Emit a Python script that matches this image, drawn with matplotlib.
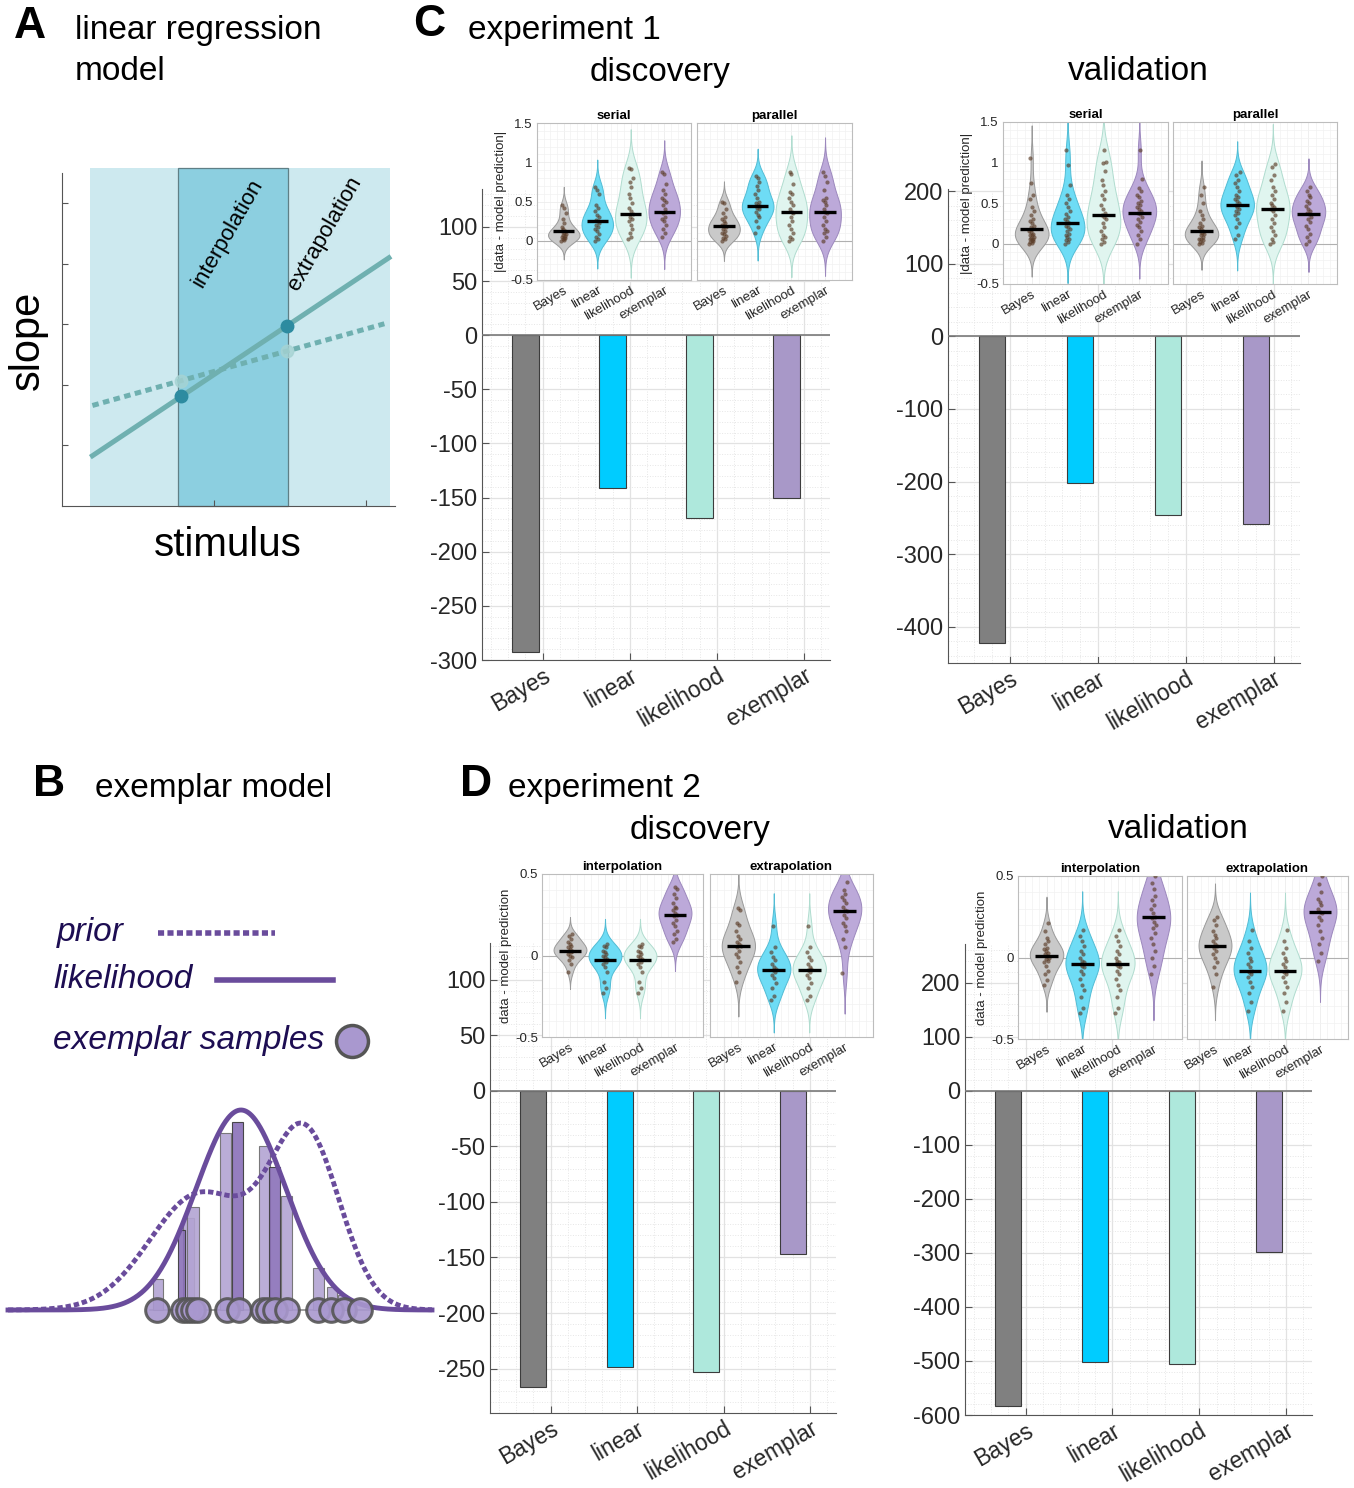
import numpy as np
import matplotlib
matplotlib.use('Agg')
import matplotlib.pyplot as plt
from matplotlib.patches import Rectangle
from matplotlib.ticker import MultipleLocator, FormatStrFormatter

plt.rcParams['font.family'] = ['Liberation Sans', 'DejaVu Sans']
plt.rcParams['axes.unicode_minus'] = False

W, H = 1354, 1488

models = ['Bayes', 'linear', 'likelihood', 'exemplar']
bar_colors = ['#808080', '#00ccff', '#aee8dc', '#a898c8']
violin_colors = ['#c9c9c9', '#6edcf5', '#e0f5ef', '#bca9d9']
violin_edges = ['#9a9a9a', '#52bcd4', '#b0dccf', '#9c88bd']

# summed model comparison (bars)
exp1_disc_bars = [-293, -141, -169, -150]
exp1_val_bars = [-422, -202, -246, -258]
exp2_disc_bars = [-267, -249, -253, -147]
exp2_val_bars = [-584, -501, -506, -298]

# |data - model prediction|, experiment 1 discovery
e1d_serial = [
    [0.0, 0.01, 0.02, 0.03, 0.04, 0.05, 0.06, 0.07, 0.08, 0.1, 0.12, 0.13, 0.15, 0.18, 0.22, 0.28, 0.35, 0.42, 0.45],
    [0.0, 0.02, 0.05, 0.08, 0.12, 0.15, 0.18, 0.2, 0.22, 0.25, 0.27, 0.3, 0.33, 0.38, 0.42, 0.45, 0.6, 0.65, 0.68],
    [0.02, 0.05, 0.1, 0.15, 0.2, 0.25, 0.28, 0.3, 0.34, 0.38, 0.42, 0.48, 0.55, 0.6, 0.68, 0.75, 0.8, 0.92, 0.93],
    [0.05, 0.1, 0.15, 0.2, 0.25, 0.28, 0.3, 0.35, 0.37, 0.4, 0.45, 0.5, 0.52, 0.55, 0.6, 0.65, 0.72, 0.85, 0.87],
]
e1d_serial_med = [0.13, 0.25, 0.34, 0.37]
e1d_parallel = [
    [0.0, 0.02, 0.04, 0.06, 0.08, 0.1, 0.12, 0.15, 0.17, 0.19, 0.2, 0.22, 0.25, 0.28, 0.3, 0.35, 0.4, 0.48, 0.5],
    [0.1, 0.18, 0.25, 0.3, 0.33, 0.36, 0.4, 0.42, 0.44, 0.46, 0.48, 0.5, 0.55, 0.6, 0.65, 0.7, 0.75, 0.8, 0.82],
    [0.0, 0.02, 0.05, 0.1, 0.15, 0.2, 0.25, 0.3, 0.35, 0.36, 0.4, 0.45, 0.5, 0.55, 0.6, 0.62, 0.72, 0.85, 0.88],
    [0.0, 0.05, 0.1, 0.12, 0.15, 0.2, 0.25, 0.3, 0.35, 0.37, 0.4, 0.45, 0.5, 0.52, 0.55, 0.65, 0.75, 0.82, 0.87],
]
e1d_parallel_med = [0.19, 0.44, 0.36, 0.37]

# experiment 1 validation
e1v_serial = [
    [0.0, 0.01, 0.02, 0.03, 0.04, 0.05, 0.06, 0.07, 0.08, 0.1, 0.11, 0.12, 0.14, 0.16, 0.18, 0.2, 0.22, 0.25, 0.28, 0.3, 0.35, 0.4, 0.45, 0.55, 0.6, 0.75, 1.05],
    [0.0, 0.02, 0.04, 0.06, 0.08, 0.1, 0.12, 0.15, 0.18, 0.2, 0.22, 0.25, 0.28, 0.3, 0.33, 0.36, 0.4, 0.45, 0.5, 0.55, 0.6, 0.72, 0.97, 1.15],
    [0.0, 0.02, 0.05, 0.08, 0.1, 0.15, 0.2, 0.25, 0.3, 0.33, 0.35, 0.38, 0.42, 0.48, 0.55, 0.6, 0.65, 0.72, 0.78, 0.9, 1.0, 1.01, 1.15],
    [0.0, 0.05, 0.1, 0.15, 0.2, 0.23, 0.26, 0.3, 0.33, 0.36, 0.38, 0.4, 0.42, 0.45, 0.48, 0.5, 0.53, 0.57, 0.6, 0.65, 0.68, 0.8, 1.15],
]
e1v_serial_med = [0.18, 0.25, 0.35, 0.38]
e1v_parallel = [
    [0.0, 0.01, 0.02, 0.04, 0.05, 0.06, 0.08, 0.1, 0.12, 0.13, 0.15, 0.16, 0.18, 0.2, 0.22, 0.25, 0.3, 0.35, 0.4, 0.5, 0.6, 0.7],
    [0.05, 0.1, 0.2, 0.25, 0.3, 0.35, 0.38, 0.4, 0.43, 0.45, 0.47, 0.5, 0.52, 0.55, 0.58, 0.6, 0.65, 0.7, 0.75, 0.78, 0.85, 0.88],
    [0.0, 0.02, 0.05, 0.1, 0.15, 0.2, 0.25, 0.3, 0.35, 0.4, 0.43, 0.45, 0.48, 0.5, 0.55, 0.6, 0.65, 0.7, 0.78, 0.85, 0.95, 0.98],
    [0.0, 0.03, 0.08, 0.12, 0.18, 0.22, 0.26, 0.3, 0.33, 0.36, 0.38, 0.4, 0.43, 0.46, 0.5, 0.53, 0.57, 0.6, 0.65, 0.7],
]
e1v_parallel_med = [0.16, 0.47, 0.43, 0.36]

# data - model prediction, experiment 2 discovery
e2d_interp = [
    [-0.1, -0.05, -0.03, -0.01, 0.0, 0.01, 0.02, 0.03, 0.03, 0.04, 0.05, 0.06, 0.07, 0.08, 0.1, 0.12, 0.13],
    [-0.23, -0.2, -0.16, -0.1, -0.07, -0.05, -0.04, -0.03, -0.02, -0.01, 0.0, 0.01, 0.02, 0.03, 0.05, 0.06, 0.07],
    [-0.23, -0.2, -0.16, -0.1, -0.07, -0.05, -0.04, -0.03, -0.02, -0.01, 0.0, 0.01, 0.02, 0.03, 0.05, 0.06, 0.07],
    [0.08, 0.1, 0.13, 0.15, 0.18, 0.2, 0.22, 0.24, 0.25, 0.26, 0.28, 0.29, 0.3, 0.32, 0.35, 0.38, 0.41, 0.42],
]
e2d_interp_med = [0.03, -0.03, -0.03, 0.25]
e2d_extrap = [
    [-0.16, -0.1, -0.07, -0.04, -0.01, 0.01, 0.03, 0.05, 0.06, 0.07, 0.08, 0.1, 0.12, 0.15, 0.19, 0.2, 0.28, 0.29],
    [-0.27, -0.25, -0.2, -0.17, -0.14, -0.12, -0.1, -0.09, -0.08, -0.07, -0.05, -0.03, -0.01, 0.02, 0.05, 0.18],
    [-0.27, -0.25, -0.2, -0.17, -0.14, -0.12, -0.1, -0.09, -0.08, -0.07, -0.05, -0.03, -0.01, 0.02, 0.05, 0.18],
    [-0.11, 0.05, 0.1, 0.15, 0.18, 0.2, 0.23, 0.25, 0.27, 0.28, 0.3, 0.32, 0.34, 0.36, 0.38, 0.4, 0.45],
]
e2d_extrap_med = [0.06, -0.09, -0.09, 0.27]

# experiment 2 validation
e2v_interp = [
    [-0.17, -0.14, -0.1, -0.08, -0.05, -0.03, -0.02, -0.01, 0.0, 0.01, 0.02, 0.03, 0.04, 0.05, 0.06, 0.08, 0.1, 0.12, 0.16, 0.21],
    [-0.34, -0.31, -0.24, -0.2, -0.17, -0.13, -0.1, -0.08, -0.06, -0.05, -0.04, -0.03, -0.02, 0.0, 0.02, 0.04, 0.07, 0.1, 0.13, 0.17],
    [-0.34, -0.31, -0.24, -0.2, -0.17, -0.13, -0.1, -0.08, -0.06, -0.05, -0.04, -0.03, -0.02, 0.0, 0.02, 0.04, 0.07, 0.1, 0.13, 0.17],
    [-0.1, -0.05, 0.0, 0.04, 0.08, 0.12, 0.15, 0.18, 0.2, 0.22, 0.24, 0.25, 0.27, 0.3, 0.32, 0.35, 0.38, 0.42, 0.46, 0.5],
]
e2v_interp_med = [0.01, -0.04, -0.04, 0.25]
e2v_extrap = [
    [-0.18, -0.1, -0.06, -0.03, 0.0, 0.02, 0.04, 0.06, 0.07, 0.08, 0.1, 0.12, 0.14, 0.16, 0.2, 0.23, 0.25],
    [-0.33, -0.27, -0.22, -0.18, -0.15, -0.12, -0.1, -0.09, -0.08, -0.06, -0.04, -0.02, 0.0, 0.03, 0.06, 0.1, 0.17],
    [-0.33, -0.27, -0.22, -0.18, -0.15, -0.12, -0.1, -0.09, -0.08, -0.06, -0.04, -0.02, 0.0, 0.03, 0.06, 0.1, 0.17],
    [-0.02, 0.03, 0.08, 0.12, 0.16, 0.2, 0.23, 0.25, 0.27, 0.28, 0.3, 0.32, 0.34, 0.36, 0.4, 0.45, 0.5],
]
e2v_extrap_med = [0.07, -0.08, -0.08, 0.28]

# panel A schematic (stimulus / slope units)
solid_x = [0.2, 2.15]
solid_y = [0.83, 4.1]
dotted_x = [0.2, 2.12]
dotted_y = [1.66, 3.01]
bound_x = [0.78, 1.48]
solid_dot_y = [1.81, 2.97]
dotted_dot_y = [2.07, 2.56]

# panel B schematic
prior_means = [200, 305]
prior_sds = [50, 35]
prior_peaks = [116, 173]
lik_mean, lik_sd, lik_peak = 241, 45, 200
hist_light_x = [153, 183, 187, 220, 259, 281, 313, 327, 338]
hist_light_w = [10, 11, 12, 11, 11, 11, 11, 10, 9]
hist_light_h = [31, 92, 103, 177, 164, 114, 42, 23, 15]
hist_dark_x = [178, 232, 269]
hist_dark_w = [7, 11, 11]
hist_dark_h = [80, 188, 143]
sample_x = [157, 183, 188, 193, 198, 227, 239, 263, 268, 275, 287, 318, 331, 344, 360]

TXT = '#262626'
INSET_FS = 9.5


def px_rect(l, t, r, b):
    return [l / W, 1 - b / H, (r - l) / W, (b - t) / H]


fig = plt.figure(figsize=(W / 100, H / 100), dpi=100)


def bar_panel(rect, vals, ylim, ystep, yminor):
    ax = fig.add_axes(rect, zorder=1)
    x = np.arange(1, 5)
    ax.bar(x - 0.2, vals, width=0.3, color=bar_colors, edgecolor='#3c3c3c', linewidth=0.8, zorder=3)
    ax.set_xlim(0.3, 4.3)
    ax.set_ylim(*ylim)
    ax.set_xticks(x)
    ax.set_xticklabels(models, rotation=30, ha='right', va='top', rotation_mode='anchor',
                       fontsize=16.5, color=TXT)
    ax.yaxis.set_major_locator(MultipleLocator(ystep))
    ax.yaxis.set_minor_locator(MultipleLocator(yminor))
    ax.xaxis.set_minor_locator(MultipleLocator(0.2))
    ax.tick_params(axis='y', labelsize=17, labelcolor=TXT)
    ax.tick_params(axis='x', pad=3)
    ax.tick_params(which='major', direction='in', length=5, color='#555555')
    ax.tick_params(which='minor', length=0)
    ax.grid(which='major', color='#e2e2e2', lw=0.9)
    ax.grid(which='minor', color='#e6e6e6', lw=0.7, ls=':')
    ax.set_axisbelow(True)
    ax.axhline(0, color='#7a7a7a', lw=1.2, zorder=4)
    for s in ['top', 'right']:
        ax.spines[s].set_visible(False)
    for s in ['left', 'bottom']:
        ax.spines[s].set_color('#555555')
    return ax


def violin_inset(rect, groups, medians, title, ylim, ystep, ylabel=None):
    ax = fig.add_axes(rect, zorder=5)
    ax.set_facecolor('white')
    for i, (pts, med) in enumerate(zip(groups, medians)):
        pos = i + 1
        pts = np.asarray(pts, dtype=float)
        bw = 1.06 * pts.std() * len(pts) ** (-0.2)
        yy = np.linspace(pts.min() - 3 * bw, pts.max() + 3 * bw, 300)
        dens = np.exp(-0.5 * ((yy[:, None] - pts[None, :]) / bw) ** 2).sum(axis=1)
        dens = dens / dens.max() * 0.47
        ax.fill_betweenx(yy, pos - dens, pos + dens, facecolor=violin_colors[i],
                         edgecolor=violin_edges[i], lw=0.7, zorder=2)
        jit = ((np.arange(len(pts)) * 0.618) % 1 - 0.5) * 0.14
        ax.scatter(pos + jit, pts, s=9, color='#5a3b26', alpha=0.65, lw=0, zorder=3)
        ax.plot([pos - 0.32, pos + 0.32], [med, med], color='k', lw=2.4, zorder=4,
                solid_capstyle='butt')
    ax.axhline(0, color='#b0b0b0', lw=0.8, zorder=1)
    ax.set_xlim(0.2, 4.8)
    ax.set_ylim(*ylim)
    ax.yaxis.set_major_locator(MultipleLocator(ystep))
    ax.yaxis.set_major_formatter(FormatStrFormatter('%g'))
    ax.yaxis.set_minor_locator(MultipleLocator(0.1))
    ax.xaxis.set_minor_locator(MultipleLocator(0.2))
    ax.set_xticks(np.arange(1, 5))
    ax.set_xticklabels(models, rotation=30, ha='right', va='top', rotation_mode='anchor',
                       fontsize=INSET_FS, color=TXT)
    ax.tick_params(axis='y', labelsize=INSET_FS, labelcolor=TXT)
    ax.tick_params(which='both', length=0, pad=3)
    ax.grid(which='major', color='#ececec', lw=0.6)
    ax.grid(which='minor', color='#f2f2f2', lw=0.5)
    ax.set_axisbelow(True)
    for s in ax.spines.values():
        s.set_color('#bdbdbd')
    ax.set_title(title, fontsize=INSET_FS, fontweight='bold', pad=3)
    if ylabel:
        ax.set_ylabel(ylabel, fontsize=INSET_FS, color=TXT, labelpad=2)
    else:
        ax.set_yticklabels([])
    return ax


# ---- panel C: experiment 1
bar_panel(px_rect(482, 189, 830, 660), exp1_disc_bars, (-300, 135), 50, 10)
bar_panel(px_rect(948, 189, 1300, 663), exp1_val_bars, (-450, 203), 100, 20)
violin_inset(px_rect(537, 123, 691, 280), e1d_serial, e1d_serial_med, 'serial', (-0.5, 1.5), 0.5,
             '|data - model prediction|')
violin_inset(px_rect(697, 123, 852, 280), e1d_parallel, e1d_parallel_med, 'parallel', (-0.5, 1.5), 0.5)
violin_inset(px_rect(1003, 122, 1168, 284), e1v_serial, e1v_serial_med, 'serial', (-0.5, 1.5), 0.5,
             '|data - model prediction|')
violin_inset(px_rect(1173, 122, 1337, 284), e1v_parallel, e1v_parallel_med, 'parallel', (-0.5, 1.5), 0.5)

# ---- panel D: experiment 2
bar_panel(px_rect(490, 943, 836, 1413), exp2_disc_bars, (-290, 133), 50, 10)
bar_panel(px_rect(965, 944, 1312, 1415), exp2_val_bars, (-600, 272), 100, 20)
violin_inset(px_rect(542, 874, 703, 1037), e2d_interp, e2d_interp_med, 'interpolation', (-0.5, 0.5), 0.5,
             'data - model prediction')
violin_inset(px_rect(710, 874, 873, 1037), e2d_extrap, e2d_extrap_med, 'extrapolation', (-0.5, 0.5), 0.5)
violin_inset(px_rect(1018, 876, 1182, 1039), e2v_interp, e2v_interp_med, 'interpolation', (-0.5, 0.5), 0.5,
             'data - model prediction')
violin_inset(px_rect(1187, 876, 1348, 1039), e2v_extrap, e2v_extrap_med, 'extrapolation', (-0.5, 0.5), 0.5)

# ---- panel A: linear regression schematic
axA = fig.add_axes(px_rect(62, 173, 395, 506))
axA.set_xlim(0, 2.19)
axA.set_ylim(0, 5.5)
axA.add_patch(Rectangle((0.184, 0), 1.974, 5.59, facecolor='#cde9ef', lw=0, clip_on=False, zorder=0))
axA.add_patch(Rectangle((0.763, 0), 0.724, 5.59, facecolor='#8ccfe0', edgecolor='#5f7f86', lw=0.9,
                        clip_on=False, zorder=1))
axA.plot(dotted_x, dotted_y, color='#6fb0b0', lw=3.6, linestyle=(0, (1.3, 0.9)), zorder=2)
axA.plot(solid_x, solid_y, color='#6fb0b0', lw=3.6, zorder=3)
axA.plot(bound_x, dotted_dot_y, 'o', color='#a6d3d3', ms=9, alpha=0.8, zorder=4, lw=0)
axA.plot(bound_x, solid_dot_y, 'o', color='#2d8ba0', ms=9, zorder=5, lw=0)
axA.text(1.09, 4.5, 'interpolation', rotation=60, fontsize=16, ha='center', va='center', zorder=6)
axA.text(1.73, 4.5, 'extrapolation', rotation=60, fontsize=16, ha='center', va='center', zorder=6)
axA.set_xticks([1, 2])
axA.set_yticks([1, 2, 3, 4, 5])
axA.tick_params(direction='in', length=4, color='#555555', labelleft=False, labelbottom=False)
for s in ['top', 'right']:
    axA.spines[s].set_visible(False)
for s in ['left', 'bottom']:
    axA.spines[s].set_color('#555555')

# ---- panel B: exemplar schematic
axB = fig.add_axes(px_rect(0, 1090, 440, 1340))
axB.set_xlim(0, 440)
axB.set_ylim(-30, 220)
axB.axis('off')
xs = np.linspace(8, 432, 500)
prior = sum(p * np.exp(-0.5 * ((xs - m) / s) ** 2) for m, s, p in zip(prior_means, prior_sds, prior_peaks))
lik = lik_peak * np.exp(-0.5 * ((xs - lik_mean) / lik_sd) ** 2)
axB.plot([150, 370], [0, 0], color='#8c8c8c', lw=1.2, zorder=1)
axB.bar(hist_light_x, hist_light_h, width=hist_light_w, align='edge', color='#b3a4d3',
        edgecolor='#6e6e6e', lw=0.8, alpha=0.9, zorder=2)
axB.bar(hist_dark_x, hist_dark_h, width=hist_dark_w, align='edge', color='#8a70b8',
        edgecolor='#3a3a3a', lw=0.8, alpha=0.9, zorder=2)
axB.plot(xs, prior, color='#6a4c9c', lw=3.5, linestyle=(0, (1.1, 0.6)), zorder=3)
axB.plot(xs, lik, color='#6a4c9c', lw=3.5, zorder=3)
axB.plot(sample_x, np.zeros(len(sample_x)), 'o', ms=17, mfc='#a998cf', mec='#555555', mew=2.2,
         alpha=0.9, zorder=4)

# ---- overlay for titles and legend of B
ov = fig.add_axes([0, 0, 1, 1], zorder=10)
ov.set_xlim(0, W)
ov.set_ylim(H, 0)
ov.axis('off')
ov.patch.set_alpha(0)

ov.text(14, 27, 'A', fontsize=32, fontweight='bold', ha='left', va='center')
ov.text(75, 30, 'linear regression', fontsize=24, ha='left', va='center')
ov.text(75, 72, 'model', fontsize=24, ha='left', va='center')
ov.text(28, 340, 'slope', fontsize=30, rotation=90, ha='center', va='center')
ov.text(228, 545, 'stimulus', fontsize=29, ha='center', va='center')

ov.text(33, 784, 'B', fontsize=32, fontweight='bold', ha='left', va='center')
ov.text(95, 788, 'exemplar model', fontsize=24, ha='left', va='center')
navy = '#1d0d52'
ov.text(57, 932, 'prior', fontsize=24, style='italic', color=navy, ha='left', va='center')
ov.text(53, 980, 'likelihood', fontsize=24, style='italic', color=navy, ha='left', va='center')
ov.text(53, 1040, 'exemplar samples', fontsize=24, style='italic', color=navy, ha='left', va='center')
ov.plot([158, 275], [933, 933], color='#6a4c9c', lw=4, linestyle=(0, (1.1, 0.6)))
ov.plot([217, 333], [980, 980], color='#6a4c9c', lw=4)
ov.plot([352], [1041], 'o', ms=23, mfc='#a998cf', mec='#555555', mew=2.5)

ov.text(413, 25, 'C', fontsize=32, fontweight='bold', ha='left', va='center')
ov.text(468, 30, 'experiment 1', fontsize=24, ha='left', va='center')
ov.text(660, 72, 'discovery', fontsize=24, ha='center', va='center')
ov.text(1138, 72, 'validation', fontsize=24, ha='center', va='center')

ov.text(460, 784, 'D', fontsize=32, fontweight='bold', ha='left', va='center')
ov.text(508, 788, 'experiment 2', fontsize=24, ha='left', va='center')
ov.text(700, 830, 'discovery', fontsize=24, ha='center', va='center')
ov.text(1178, 830, 'validation', fontsize=24, ha='center', va='center')

fig.savefig('out.png', dpi=100)
